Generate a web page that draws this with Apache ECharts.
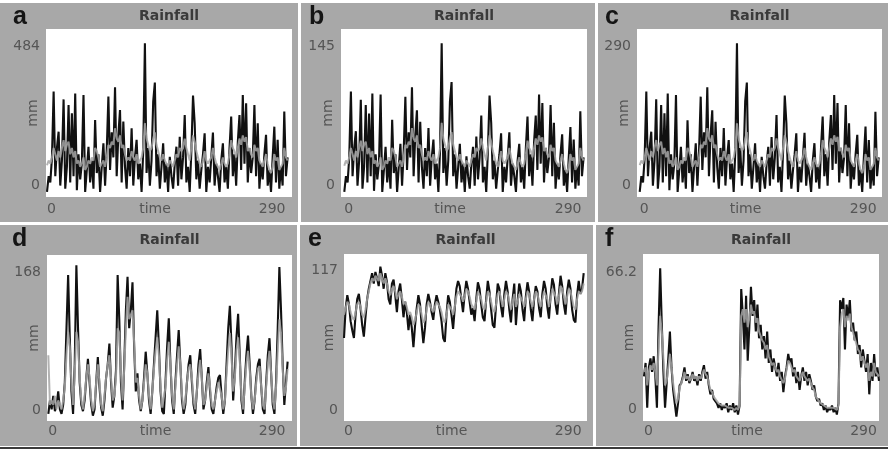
<!DOCTYPE html>
<html><head><meta charset="utf-8">
<script src="https://cdn.jsdelivr.net/npm/echarts@6/dist/echarts.min.js"></script>
<style>html,body{margin:0;padding:0;background:#fff}#c{width:888px;height:449px}</style>
</head><body><div id="c"></div>
<script>
// time steps (x values)
const time = [0,2,4,6,8,10,12,14,16,18,20,22,24,26,28,30,32,34,36,38,40,42,44,46,48,50,52,54,56,58,60,62,64,66,68,70,72,74,76,78,80,82,84,86,88,90,92,94,96,98,100,102,104,106,108,110,112,114,116,118,120,122,124,126,128,130,132,134,136,138,140,142,144,146,148,150,152,154,156,158,160,162,164,166,168,170,172,174,176,178,180,182,184,186,188,190,192,194,196,198,200,202,204,206,208,210,212,214,216,218,220,222,224,226,228,230,232,234,236,238,240,242,244,246,248,250,252,254,256,258,260,262,264,266,268,270,272,274,276,278,280,282,284,286,288,290];

const panelLetters = ['a','b','c','d','e','f'];
const panelTitle = 'Rainfall';
const xTickLabels = ['0','290'];
const xName = 'time';
const yName = 'mm';
const yMaxValues = [484,145,290,168,117,66.2];
const yMaxLabels = ['484','145','290','168','117','66.2'];

// panel a
const aObserved = [10,60,40,120,330,60,150,202,30,110,305,20,90,287,40,261,60,324,15,130,50,100,319,10,80,154,40,110,20,239,70,130,10,90,165,30,140,314,80,200,120,344,60,190,271,40,234,90,20,150,60,213,30,120,176,50,100,10,140,484,70,150,30,110,298,359,60,130,20,90,165,40,100,10,122,60,20,100,154,30,186,50,120,255,40,90,10,140,317,229,50,110,20,80,130,197,10,90,40,120,199,30,100,60,10,110,165,40,90,20,150,250,60,130,30,170,255,80,319,100,293,40,150,70,120,287,60,229,20,100,50,130,192,30,80,10,120,218,40,176,20,90,30,266,60,120];
const aSimulated = [95,110,100,120,150,130,110,140,120,150,175,140,160,170,130,150,120,140,100,110,90,100,120,80,90,110,100,120,110,150,140,120,90,100,110,90,120,160,150,170,160,213,180,170,190,150,160,130,110,120,110,140,120,110,130,100,110,120,150,229,180,160,140,150,180,200,160,140,120,110,130,110,100,90,110,100,90,110,130,120,150,140,150,180,150,130,110,150,190,170,140,120,100,90,110,140,110,100,110,120,150,120,100,90,80,100,120,100,90,100,130,175,150,140,120,150,180,160,190,170,185,140,150,130,120,160,140,150,110,100,90,110,130,100,80,70,90,130,110,120,80,90,100,150,120,110];

// panel b
const bObserved = [3,18,12,36,99,18,45,61,9,33,91,6,27,86,12,78,18,97,4,39,15,30,96,3,24,46,12,33,6,72,21,39,3,27,49,9,42,94,24,60,36,103,18,57,81,12,70,27,6,45,18,64,9,36,53,15,30,3,42,145,21,45,9,33,89,108,18,39,6,27,49,12,30,3,37,18,6,30,46,9,56,15,36,76,12,27,3,42,95,69,15,33,6,24,39,59,3,27,12,36,60,9,30,18,3,33,49,12,27,6,45,75,18,39,9,51,76,24,96,30,88,12,45,21,36,86,18,69,6,30,15,39,58,9,24,3,36,65,12,53,6,27,9,80,18,36];
const bSimulated = [28,33,30,36,45,39,33,42,36,45,52,42,48,51,39,45,36,42,30,33,27,30,36,24,27,33,30,36,33,45,42,36,27,30,33,27,36,48,45,51,48,64,54,51,57,45,48,39,33,36,33,42,36,33,39,30,33,36,45,69,54,48,42,45,54,60,48,42,36,33,39,33,30,27,33,30,27,33,39,36,45,42,45,54,45,39,33,45,57,51,42,36,30,27,33,42,33,30,33,36,45,36,30,27,24,30,36,30,27,30,39,52,45,42,36,45,54,48,57,51,55,42,45,39,36,48,42,45,33,30,27,33,39,30,24,21,27,39,33,36,24,27,30,45,36,33];

// panel c
const cObserved = [6,36,24,72,198,36,90,121,18,66,183,12,54,172,24,156,36,194,9,78,30,60,191,6,48,92,24,66,12,143,42,78,6,54,99,18,84,188,48,120,72,206,36,114,162,24,140,54,12,90,36,128,18,72,105,30,60,6,84,290,42,90,18,66,179,215,36,78,12,54,99,24,60,6,73,36,12,60,92,18,111,30,72,153,24,54,6,84,190,137,30,66,12,48,78,118,6,54,24,72,119,18,60,36,6,66,99,24,54,12,90,150,36,78,18,102,153,48,191,60,176,24,90,42,72,172,36,137,12,60,30,78,115,18,48,6,72,131,24,105,12,54,18,159,36,72];
const cSimulated = [57,66,60,72,90,78,66,84,72,90,105,84,96,102,78,90,72,84,60,66,54,60,72,48,54,66,60,72,66,90,84,72,54,60,66,54,72,96,90,102,96,128,108,102,114,90,96,78,66,72,66,84,72,66,78,60,66,72,90,137,108,96,84,90,108,120,96,84,72,66,78,66,60,54,66,60,54,66,78,72,90,84,90,108,90,78,66,90,114,102,84,72,60,54,66,84,66,60,66,72,90,72,60,54,48,60,72,60,54,60,78,105,90,84,72,90,108,96,114,102,111,84,90,78,72,96,84,90,66,60,54,66,78,60,48,42,54,78,66,72,48,54,60,90,72,66];

// panel d
const dObserved = [5,20,10,25,8,15,30,10,5,15,40,100,159,90,30,5,60,170,100,40,15,8,20,45,66,40,15,3,10,40,68,35,12,3,20,45,60,83,40,12,25,53,159,110,40,10,60,120,157,100,120,151,80,30,50,20,8,20,45,74,50,20,5,30,60,90,120,80,30,8,5,40,80,111,60,20,5,40,70,98,60,20,5,15,40,60,70,40,15,5,30,60,77,45,10,20,40,57,30,10,5,20,35,45,48,25,5,20,60,100,125,80,20,50,90,116,70,20,5,40,70,92,60,25,5,20,45,60,66,35,10,5,40,70,89,50,15,5,40,100,168,120,60,15,40,63];
const dSimulated = [70,15,20,15,25,10,20,15,10,20,35,70,96,80,40,15,50,96,85,45,20,10,25,45,60,45,20,8,15,40,60,40,15,8,25,45,60,70,45,20,25,45,100,95,50,20,55,100,135,110,115,120,85,40,45,25,10,20,40,60,50,25,10,30,55,75,90,70,35,12,10,35,65,85,60,25,10,35,60,80,60,25,10,20,40,55,60,45,20,10,30,50,65,45,15,20,35,50,35,15,10,20,30,40,42,25,10,20,50,75,95,70,30,45,75,90,65,25,10,35,60,75,55,25,10,20,40,55,58,35,15,10,35,60,75,50,20,10,35,75,110,95,55,25,35,55];

// panel e
const eObserved = [62,85,95,88,75,68,62,80,92,96,85,72,63,78,92,100,106,112,104,113,108,102,117,110,100,112,105,92,88,104,107,95,82,98,104,92,78,90,82,68,80,70,55,72,85,95,88,72,58,70,88,96,90,82,76,88,95,90,84,75,62,59,80,95,90,80,69,85,100,106,102,92,82,96,106,100,90,80,85,75,92,105,100,88,78,75,92,106,98,84,72,70,88,104,100,86,78,96,106,98,84,74,92,104,72,90,104,98,84,75,94,105,98,84,75,92,102,98,85,78,96,106,100,86,77,95,108,103,88,80,96,110,102,88,80,98,107,100,84,76,74,95,106,96,100,112];
const eSimulated = [80,85,90,88,82,78,76,82,88,90,86,80,78,84,92,98,104,108,106,110,108,106,112,108,104,108,104,98,95,100,102,98,92,96,98,94,88,90,86,80,82,78,72,76,82,88,86,80,74,76,84,90,88,84,82,86,90,88,86,82,76,74,80,88,88,84,80,86,94,98,98,94,90,94,100,98,94,88,88,84,90,98,98,92,86,84,90,98,96,90,84,82,88,96,98,92,86,92,98,96,90,84,90,96,86,90,96,96,90,86,92,98,96,90,86,92,98,96,90,86,92,98,98,92,86,92,100,100,94,88,94,102,100,94,88,94,100,98,92,86,84,92,98,96,98,104];

// panel f
const fObserved = [18,24,4,22,26,20,27,18,4,40,66.2,41,20,4,15,26,38,22,12,6,0,6,14,15,18,22,16,19,15,17,20,16,18,14,19,16,20,23,17,20,14,10,12,8,7,6,4,6,3,5,4,6,2,5,3,6,2,5,1,5,57,45,30,54,25,40,58,45,52,38,50,35,41,30,36,26,38,24,30,20,26,22,18,24,16,20,11,18,22,28,24,26,18,22,15,20,12,18,22,16,20,14,19,16,12,14,9,7,8,5,6,3,5,2,4,3,5,2,4,1,6,52,48,53,30,50,44,52,38,42,34,38,28,32,22,30,25,20,28,10,24,16,28,18,22,16];
const fSimulated = [20,22,14,20,23,21,24,20,14,30,45,38,26,14,16,22,28,22,15,10,6,8,13,15,17,20,17,18,16,17,19,17,18,16,18,17,19,21,19,18,15,12,11,9,8,7,6,6,5,5,5,5,4,4,4,4,3,4,3,5,45,48,42,48,40,44,50,46,47,42,44,38,38,34,33,30,32,27,27,23,24,22,20,21,18,18,15,17,21,25,24,24,20,21,18,18,16,18,20,18,18,16,17,15,13,12,9,8,7,6,6,5,5,4,4,4,4,4,4,3,5,40,46,48,40,45,43,46,40,40,35,35,30,29,25,27,24,22,24,16,20,18,24,20,20,18];

const observed = [aObserved,bObserved,cObserved,dObserved,eObserved,fObserved];
const simulated = [aSimulated,bSimulated,cSimulated,dSimulated,eSimulated,fSimulated];

// layout (pixels) per panel
const layout = [
  {bg:[0,3,298,219],   grid:[46,29,246,168],  x:[-1.2,295.3], y:[-6.4,529.6], hi:7,  lo:20, lm:5, gap:6, lx:13,  row:0},
  {bg:[301,3,294,219], grid:[341,29,246,168], x:[-4,294.1],   y:[-1.9,158.7], hi:7,  lo:20, lm:5, gap:6, lx:309, row:0},
  {bg:[598,3,290,219], grid:[637,29,245,168], x:[-3.3,294],   y:[-3.8,317.3], hi:7,  lo:20, lm:5, gap:6, lx:605, row:0},
  {bg:[0,225,297,221], grid:[47,255,245,166], x:[-1.6,295.3], y:[-2.9,181.3], hi:10, lo:17, lm:3, gap:6, lx:12,  row:1},
  {bg:[300,225,293,221],grid:[344,254,243,167],x:[0,294],     y:[-2,126.8],   hi:8,  lo:16, lm:3, gap:8, lx:308, row:1},
  {bg:[596,225,292,221],grid:[643,254,236,167],x:[-1.2,290],  y:[-1.9,72.6],  hi:8,  lo:14, lm:3, gap:7, lx:605, row:1}
];

const FONT = 'DejaVu Sans';
const LABEL_COLOR = '#555';
const grids = [], xAxes = [], yAxes = [], series = [], elements = [];

layout.forEach((L, i) => {
  const [gl, gt, gw, gh] = L.grid;
  elements.push({type:'rect', silent:true, z:-10, shape:{x:L.bg[0], y:L.bg[1], width:L.bg[2], height:L.bg[3]}, style:{fill:'#a8a8a8'}});
  elements.push({type:'text', silent:true, style:{text:panelLetters[i], x:L.lx, y:L.row===0?17:239, fill:'#151515', font:'bold 25px "Liberation Sans"', textVerticalAlign:'middle'}});
  elements.push({type:'text', silent:true, style:{text:panelTitle, x:gl+gw/2, y:L.row===0?16:240, fill:'#3a3a3a', font:'bold 14px "DejaVu Sans"', textAlign:'center', textVerticalAlign:'middle'}});

  grids.push({left:gl, top:gt, width:gw, height:gh, show:true, backgroundColor:'#ffffff', borderWidth:0, containLabel:false});
  const maxLabel = yMaxLabels[i];
  xAxes.push({
    type:'value', gridIndex:i, min:L.x[0], max:L.x[1],
    axisLine:{show:false}, axisTick:{show:false}, splitLine:{show:false},
    axisLabel:{
      customValues:[0,290], margin:L.lm, color:LABEL_COLOR, fontSize:14, fontFamily:FONT,
      alignMinLabel:'left',
      formatter:(v)=> v===0 ? '{l|'+xTickLabels[0]+'}' : '{r|'+xTickLabels[1]+'}',
      rich:{
        l:{fontSize:14, fontFamily:FONT, color:LABEL_COLOR},
        r:{padding:[0,31,0,0], fontSize:14, fontFamily:FONT, color:LABEL_COLOR}
      }
    },
    name:xName, nameLocation:'middle', nameGap:L.lm, nameMoveOverlap:false,
    nameTextStyle:{color:LABEL_COLOR, fontSize:14, fontFamily:FONT, padding:[0,28,0,0], verticalAlign:'top'}
  });
  yAxes.push({
    type:'value', gridIndex:i, min:L.y[0], max:L.y[1],
    axisLine:{show:false}, axisTick:{show:false}, splitLine:{show:false},
    axisLabel:{
      customValues:[0,yMaxValues[i]], margin:6, color:LABEL_COLOR, fontSize:14, fontFamily:FONT,
      formatter:(v)=> v===0 ? '{lo|0}' : '{hi|'+maxLabel+'}',
      rich:{
        lo:{padding:[0,0,L.lo,0], fontSize:14, fontFamily:FONT, color:LABEL_COLOR},
        hi:{padding:[L.hi,0,0,0], fontSize:14, fontFamily:FONT, color:LABEL_COLOR}
      }
    },
    name:yName, nameLocation:'middle', nameGap:L.gap, nameMoveOverlap:false,
    nameTextStyle:{color:LABEL_COLOR, fontSize:14, fontFamily:FONT}
  });
  series.push({
    name:'observed', type:'line', xAxisIndex:i, yAxisIndex:i, showSymbol:false, symbol:'none',
    lineStyle:{color:'#111111', width:2.1}, data: time.map((t,k)=>[t, observed[i][k]])
  });
  series.push({
    name:'simulated', type:'line', xAxisIndex:i, yAxisIndex:i, showSymbol:false, symbol:'none',
    lineStyle:{color:'#a4a4a4', width:2, opacity:0.85}, data: time.map((t,k)=>[t, simulated[i][k]])
  });
});
elements.push({type:'rect', silent:true, z:-10, shape:{x:0, y:447, width:888, height:2}, style:{fill:'#3a3a3a'}});

const chart = echarts.init(document.getElementById('c'), null, {renderer:'canvas'});
chart.setOption({
  animation:false,
  backgroundColor:'#ffffff',
  graphic:{elements},
  grid:grids, xAxis:xAxes, yAxis:yAxes, series
});
</script>
</body></html>
